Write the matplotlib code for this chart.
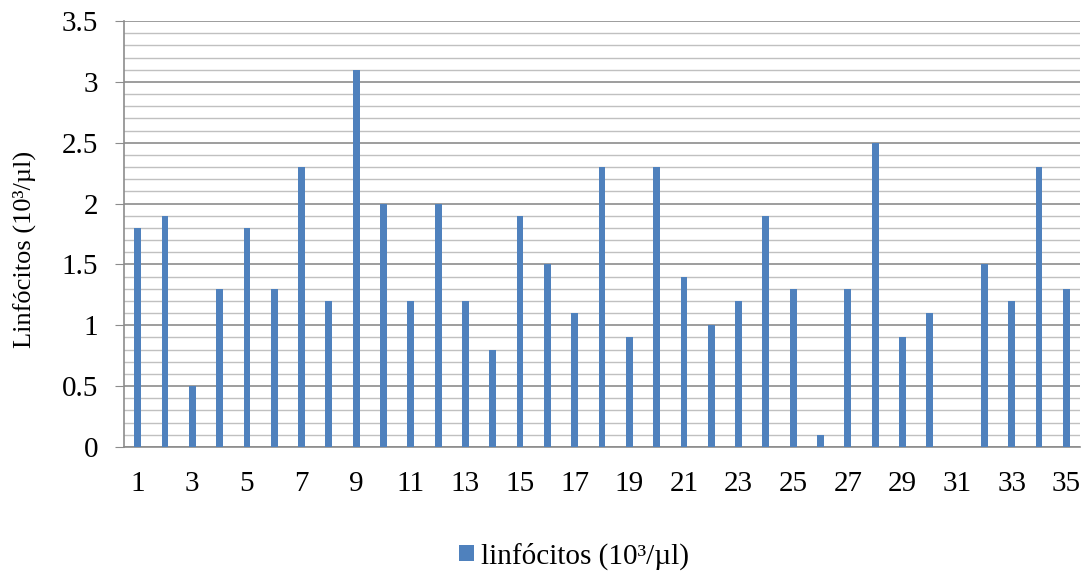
import matplotlib
matplotlib.use("Agg")
import matplotlib.pyplot as plt
from matplotlib.ticker import MultipleLocator

categories = list(range(1, 36))
values = [1.8, 1.9, 0.5, 1.3, 1.8, 1.3, 2.3, 1.2, 3.1, 2.0,
          1.2, 2.0, 1.2, 0.8, 1.9, 1.5, 1.1, 2.3, 0.9, 2.3,
          1.4, 1.0, 1.2, 1.9, 1.3, 0.1, 1.3, 2.5, 0.9, 1.1,
          0.0, 1.5, 1.2, 2.3, 1.3]
series_name = "linfócitos (10³/µl)"
ylabel = "Linfócitos (10³/µl)"

plt.rcParams['font.family'] = ['Liberation Serif', 'DejaVu Serif']

fig = plt.figure(figsize=(10.84, 5.74), dpi=100)
ax = fig.add_axes([124/1084, 1 - 447/574, (1080-124)/1084, (447-21)/574])

ax.bar(categories, values, width=0.25, color='#4F81BD', label=series_name, zorder=3)

ax.set_xlim(0.5, 35.5)
ax.set_ylim(0, 3.5)
ax.yaxis.set_major_locator(MultipleLocator(0.5))
ax.yaxis.set_minor_locator(MultipleLocator(0.1))
ax.set_xticks(categories[::2])
ax.set_xticklabels([str(c) for c in categories[::2]])
ax.yaxis.set_major_formatter(matplotlib.ticker.FuncFormatter(lambda v, p: f"{v:g}"))

ax.grid(axis='y', which='major', color='#8c8c8c', linewidth=1.2, zorder=0)
ax.grid(axis='y', which='minor', color='#c0c0c0', linewidth=1.0, zorder=0)

for s in ['top', 'right']:
    ax.spines[s].set_visible(False)
ax.spines['left'].set_color('#8c8c8c')
ax.spines['bottom'].set_color('#8c8c8c')
ax.spines['left'].set_linewidth(1.2)
ax.spines['bottom'].set_linewidth(1.2)

ax.tick_params(axis='y', which='major', length=6.5, color='#8c8c8c', labelsize=21, pad=12)
ax.tick_params(axis='y', which='minor', length=0)
ax.tick_params(axis='x', length=0, labelsize=21, pad=17)

ax.set_ylabel(ylabel, fontsize=19, va='center')
ax.yaxis.set_label_coords((24 - 124) / 956, (447 - 249) / 426)

fig.legend(loc='center', bbox_to_anchor=(574 / 1084, 1 - 556 / 574), frameon=False, fontsize=21,
           handlelength=0.5, handleheight=0.5, handletextpad=0.25, borderpad=0)

fig.savefig("out.png", dpi=100)
